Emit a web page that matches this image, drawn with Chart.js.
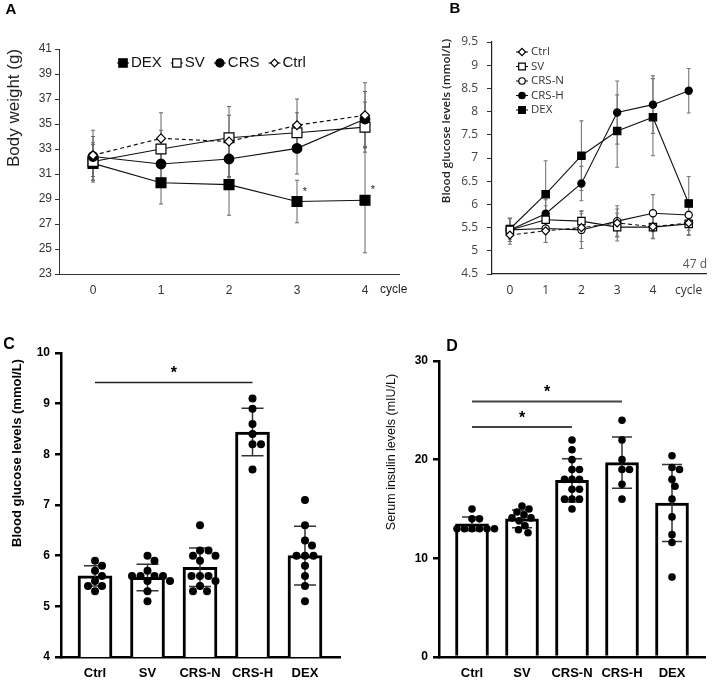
<!DOCTYPE html>
<html>
<head>
<meta charset="utf-8">
<script src="https://cdn.jsdelivr.net/npm/chart.js@4.4.1/dist/chart.umd.min.js"></script>
<style>
  html, body { margin: 0; padding: 0; background: #fff; }
  #wrap { position: relative; width: 713px; height: 681px; overflow: hidden; }
  canvas { position: absolute; }
</style>
</head>
<body>
<div id="wrap">
  <canvas id="chartA" width="420" height="310" style="left:0;top:0"></canvas>
  <canvas id="chartB" width="353" height="310" style="left:360px;top:0"></canvas>
  <canvas id="chartC" width="360" height="371" style="left:0;top:310px"></canvas>
  <canvas id="chartD" width="353" height="371" style="left:360px;top:310px"></canvas>
</div>
<script>
// ---- Panel A: body weight per cycle ----
const cyclesA = ['0', '1', '2', '3', '4'];
const weightDex = [31.85, 30.3, 30.15, 28.8, 28.9];
const weightDexSd = [1.5, 1.7, 2.45, 1.7, 4.2];
const weightSv = [32.0, 33.0, 33.9, 34.3, 34.75];
const weightSvSd = [1.5, 1.5, 1.8, 1.6, 2.0];
const weightCrs = [32.4, 31.8, 32.2, 33.05, 35.4];
const weightCrsSd = [1.6, 1.2, 1.5, 2.05, 2.2];
const weightCtrl = [32.5, 33.85, 33.6, 34.9, 35.7];
const weightCtrlSd = [2.0, 2.05, 2.8, 2.1, 2.6];
const dexStarCycles = [3, 4];

// ---- Panel B: blood glucose per cycle ----
const cyclesB = ['0', '1', '2', '3', '4', 'cycle'];
const glucCtrl = [5.34, 5.43, 5.5, 5.6, 5.52, 5.6];
const glucCtrlSd = [0.2, 0.25, 0.3, 0.3, 0.25, 0.25];
const glucSv = [5.45, 5.67, 5.64, 5.51, 5.51, 5.58];
const glucSvSd = [0.25, 0.3, 0.22, 0.3, 0.25, 0.25];
const glucCrsN = [5.45, 5.48, 5.45, 5.64, 5.81, 5.77];
const glucCrsNSd = [0.25, 0.3, 0.4, 0.33, 0.4, 0.2];
const glucCrsH = [5.45, 5.8, 6.45, 7.98, 8.15, 8.45];
const glucCrsHSd = [0.25, 0.3, 0.37, 0.68, 0.62, 0.48];
const glucDex = [5.47, 6.22, 7.05, 7.58, 7.88, 6.02];
const glucDexSd = [0.22, 0.72, 0.75, 0.78, 0.83, 0.58];

// ---- Panels C and D: groups ----
const groups = ['Ctrl', 'SV', 'CRS-N', 'CRS-H', 'DEX'];

const glucoseMean = [5.6, 5.57, 5.77, 8.44, 6.0];
const glucoseSd = [0.2, 0.26, 0.38, 0.47, 0.58];
const glucoseCtrl = [5.9, 5.8, 5.7, 5.6, 5.5, 5.4, 5.4, 5.3];
const glucoseSv = [6.0, 5.9, 5.7, 5.6, 5.6, 5.6, 5.6, 5.5, 5.5, 5.3, 5.1];
const glucoseCrsN = [6.6, 6.1, 6.1, 6.0, 6.0, 5.9, 5.6, 5.6, 5.6, 5.5, 5.4, 5.3, 5.3];
const glucoseCrsH = [9.1, 8.9, 8.6, 8.4, 8.2, 8.2, 7.7];
const glucoseDex = [7.1, 6.6, 6.3, 6.2, 6.0, 6.0, 6.0, 5.8, 5.6, 5.4, 5.1];
const sigC = [{ from: 0, to: 3, level: 9.42 }];

const insulinMean = [13.5, 14.0, 17.9, 19.7, 15.6];
const insulinSd = [0.7, 0.9, 2.2, 2.6, 3.9];
const insulinCtrl = [15, 14, 14, 13, 13, 13, 13, 13, 13];
const insulinSv = [15.3, 15.0, 14.7, 14.4, 14.1, 14.1, 13.8, 13.3, 12.9, 12.6];
const insulinCrsN = [22, 21, 20, 19, 19, 18, 18, 18, 17, 17, 16, 16, 16, 15];
const insulinCrsH = [24, 22, 20, 19, 19, 17.5, 16];
const insulinDex = [20.4, 19.2, 19.0, 18.0, 17.3, 16.0, 14.2, 12.4, 11.6, 8.1];
const sigD = [{ from: 0, to: 3, level: 25.9 }, { from: 0, to: 2, level: 23.3 }];

// ---------- helpers ----------
function drawMarker(ctx, style, r, x, y) {
    ctx.beginPath();
    if (style === 'circle') {
        ctx.arc(x, y, r, 0, Math.PI * 2);
    } else if (style === 'rect') {
        const s = r * Math.SQRT1_2;
        ctx.rect(x - s, y - s, 2 * s, 2 * s);
    } else {
        ctx.moveTo(x - r, y); ctx.lineTo(x, y - r); ctx.lineTo(x + r, y); ctx.lineTo(x, y + r); ctx.closePath();
    }
    ctx.fill();
    ctx.stroke();
}

function drawErrorBars(chart, meta, style) {
    const ds = chart.data.datasets[meta.index];
    if (!ds.sd) return;
    const ctx = chart.ctx;
    const yScale = chart.scales.y;
    ctx.save();
    ctx.strokeStyle = style.color;
    ctx.lineWidth = style.width;
    meta.data.forEach((el, i) => {
        const raw = ds.data[i];
        const mean = typeof raw === 'object' ? raw.y : raw;
        const top = yScale.getPixelForValue(mean + ds.sd[i]);
        const bottom = yScale.getPixelForValue(mean - ds.sd[i]);
        ctx.beginPath();
        ctx.moveTo(el.x, top); ctx.lineTo(el.x, bottom);
        ctx.moveTo(el.x - style.cap, top); ctx.lineTo(el.x + style.cap, top);
        ctx.moveTo(el.x - style.cap, bottom); ctx.lineTo(el.x + style.cap, bottom);
        ctx.stroke();
    });
    ctx.restore();
}

const errorBarPlugin = (style) => ({
    id: 'errorBars',
    beforeDatasetsDraw(chart) {
        if (style.under) chart.getSortedVisibleDatasetMetas().forEach(m => drawErrorBars(chart, m, style));
    },
    afterDatasetDraw(chart, args) {
        if (!style.under) drawErrorBars(chart, args.meta, style);
    }
});

const freeTextPlugin = (items) => ({
    id: 'freeText',
    afterDraw(chart) {
        const ctx = chart.ctx;
        items.forEach(t => {
            ctx.save();
            ctx.font = t.font;
            ctx.fillStyle = t.color || '#000';
            ctx.textAlign = t.align || 'center';
            ctx.textBaseline = 'middle';
            ctx.translate(t.x, t.y);
            if (t.rotate) ctx.rotate(t.rotate * Math.PI / 180);
            ctx.fillText(t.text, 0, 0);
            ctx.restore();
        });
    }
});

// legend drawn with the dataset's own marker style
const markerLegendPlugin = (o) => ({
    id: 'markerLegend',
    afterDraw(chart) {
        const ctx = chart.ctx;
        ctx.save();
        ctx.font = o.font;
        ctx.textBaseline = 'middle';
        ctx.textAlign = 'left';
        let x = o.x, y = o.y;
        o.order.forEach(label => {
            const ds = chart.data.datasets.find(d => d.label === label);
            ctx.strokeStyle = '#000';
            ctx.lineWidth = 1;
            ctx.beginPath(); ctx.moveTo(x - o.stub, y); ctx.lineTo(x + o.stub, y); ctx.stroke();
            ctx.fillStyle = ds.pointBackgroundColor;
            ctx.lineWidth = 1.2;
            drawMarker(ctx, ds.pointStyle, ds.pointRadius * o.scale, x, y);
            ctx.fillStyle = o.color;
            ctx.fillText(label, x + o.textGap, y);
            if (o.horizontal) x += o.textGap + ctx.measureText(label).width + o.itemGap;
            else y += o.lineGap;
        });
        ctx.restore();
    }
});

const sigPlugin = (lines, style) => ({
    id: 'sigLines',
    afterDatasetsDraw(chart) {
        const ctx = chart.ctx, xs = chart.scales.x, ys = chart.scales.y;
        ctx.save();
        lines.forEach(l => {
            const y = ys.getPixelForValue(l.level);
            const x1 = xs.getPixelForValue(l.from), x2 = xs.getPixelForValue(l.to);
            ctx.strokeStyle = style.color;
            ctx.lineWidth = style.width;
            ctx.beginPath(); ctx.moveTo(x1, y); ctx.lineTo(x2, y); ctx.stroke();
            ctx.fillStyle = '#000';
            ctx.font = style.font;
            ctx.textAlign = 'center';
            ctx.textBaseline = 'middle';
            ctx.fillText('*', (x1 + x2) / 2, y - style.lift);
        });
        ctx.restore();
    }
});

// spread dots sideways so they do not overlap (pixel scale given per panel)
function swarm(values, center, pxX, pxY, dia) {
    const placed = [];
    return values.slice().sort((a, b) => b - a).map(v => {
        const py = v * pxY;
        let off = 0;
        for (let k = 0; k < 400; k++) {
            const cand = (k % 2 ? 1 : -1) * Math.ceil(k / 2) * 0.5;
            if (placed.every(p => Math.hypot(p.x - cand, p.y - py) >= dia)) { off = cand; break; }
        }
        placed.push({ x: off, y: py });
        return { x: center + off / pxX, y: v };
    });
}

const lineSet = (label, data, sd, style, radius, fill, dash, width) => ({
    label, data, sd,
    borderColor: '#111', borderWidth: width, borderDash: dash || [],
    pointStyle: style, pointRadius: radius, pointHoverRadius: radius,
    pointBackgroundColor: fill, pointBorderColor: '#000', pointBorderWidth: 1.2,
    tension: 0, fill: false
});

// ---------- Chart A ----------
const dexStarPlugin = {
    id: 'dexStars',
    afterDatasetsDraw(chart) {
        const meta = chart.getDatasetMeta(chart.data.datasets.findIndex(d => d.label === 'DEX'));
        const ctx = chart.ctx;
        ctx.save();
        ctx.font = '11px Arial';
        ctx.fillStyle = '#222';
        ctx.textAlign = 'center';
        ctx.textBaseline = 'middle';
        dexStarCycles.forEach(i => ctx.fillText('*', meta.data[i].x + 8, meta.data[i].y - 10));
        ctx.restore();
    }
};

new Chart(document.getElementById('chartA'), {
    type: 'line',
    data: {
        labels: cyclesA,
        datasets: [
            lineSet('Ctrl', weightCtrl, weightCtrlSd, 'rectRot', 4.5, '#fff', [4, 3], 1.2),
            lineSet('CRS', weightCrs, weightCrsSd, 'circle', 4.8, '#000', null, 1.2),
            lineSet('SV', weightSv, weightSvSd, 'rect', 7, '#fff', null, 1.2),
            lineSet('DEX', weightDex, weightDexSd, 'rect', 7, '#000', null, 1.2)
        ]
    },
    options: {
        responsive: false,
        animation: false,
        layout: { padding: { top: 49, right: 21, left: 0, bottom: 0 } },
        plugins: { legend: { display: false }, tooltip: { enabled: false } },
        scales: {
            x: {
                offset: true,
                grid: { display: false, drawTicks: false },
                border: { color: '#333', width: 1 },
                ticks: { font: { family: 'Arial', size: 12 }, color: '#333', padding: 9 },
                afterFit: s => { s.height = 36; }
            },
            y: {
                min: 23, max: 41,
                ticks: { stepSize: 2, font: { family: 'Arial', size: 12 }, color: '#333', padding: 3 },
                grid: { drawOnChartArea: false, tickLength: 4, color: '#333' },
                border: { color: '#333', width: 1 },
                afterFit: s => { s.width = 59; }
            }
        }
    },
    plugins: [
        errorBarPlugin({ under: true, color: '#666', width: 1, cap: 2 }),
        dexStarPlugin,
        markerLegendPlugin({ order: ['DEX', 'SV', 'CRS', 'Ctrl'], horizontal: true, x: 123, y: 63, stub: 6, scale: 0.85,
            textGap: 8, itemGap: 15, font: '15px Arial', color: '#111' }),
        freeTextPlugin([
            { text: 'A', x: 11, y: 10, font: 'bold 15px Arial' },
            { text: 'Body weight (g)', x: 14, y: 108, rotate: -90, font: '17px Arial', color: '#222' },
            { text: 'cycle', x: 380, y: 290, align: 'left', font: '12px Arial', color: '#222' }
        ])
    ]
});

// ---------- Chart B ----------
new Chart(document.getElementById('chartB'), {
    type: 'line',
    data: {
        labels: cyclesB,
        datasets: [
            lineSet('Ctrl', glucCtrl, glucCtrlSd, 'rectRot', 4, '#fff', [4, 3], 1.1),
            lineSet('SV', glucSv, glucSvSd, 'rect', 5.2, '#fff', null, 1.1),
            lineSet('CRS-N', glucCrsN, glucCrsNSd, 'circle', 3.6, '#fff', null, 1.1),
            lineSet('CRS-H', glucCrsH, glucCrsHSd, 'circle', 3.6, '#000', null, 1.1),
            lineSet('DEX', glucDex, glucDexSd, 'rect', 5.2, '#000', null, 1.1)
        ]
    },
    options: {
        responsive: false,
        animation: false,
        layout: { padding: { top: 42, right: 0, left: 0, bottom: 0 } },
        plugins: { legend: { display: false }, tooltip: { enabled: false } },
        scales: {
            x: {
                offset: true,
                grid: { display: false, drawTicks: false },
                border: { color: '#222', width: 1.2 },
                ticks: { font: { family: 'Open Sans', size: 12 }, color: '#333', padding: 9 },
                afterFit: s => { s.height = 36; }
            },
            y: {
                min: 4.5, max: 9.5,
                ticks: { stepSize: 0.5, font: { family: 'Open Sans', size: 12 }, color: '#444', padding: 9, callback: v => String(v) },
                grid: { drawOnChartArea: false, tickLength: 5, color: '#333' },
                border: { color: '#222', width: 1.2 },
                afterFit: s => { s.width = 132; }
            }
        }
    },
    plugins: [
        errorBarPlugin({ under: true, color: '#777', width: 1.1, cap: 2 }),
        markerLegendPlugin({ order: ['Ctrl', 'SV', 'CRS-N', 'CRS-H', 'DEX'], horizontal: false, x: 162, y: 52, stub: 6, scale: 0.9,
            textGap: 9, lineGap: 14.5, font: '11.5px "Open Sans"', color: '#333' }),
        freeTextPlugin([
            { text: 'B', x: 95, y: 9, font: 'bold 15px Arial' },
            { text: 'Blood glucose levels (mmol/L)', x: 87, y: 121, rotate: -90, font: '600 11.5px "Open Sans"', color: '#222' },
            { text: '47 d', x: 347, y: 265, align: 'right', font: '12px "Open Sans"', color: '#555' }
        ])
    ]
});

// ---------- bar + dot panels ----------
function groupChart(id, cfg) {
    const dots = [];
    cfg.dots.forEach((vals, i) => swarm(vals, i, cfg.pxX, cfg.pxY, cfg.dia).forEach(p => dots.push(p)));
    return new Chart(document.getElementById(id), {
        type: 'bar',
        data: {
            datasets: [
                {
                    type: 'scatter', label: 'points', data: dots, order: 0,
                    pointRadius: cfg.dotRadius, pointHoverRadius: cfg.dotRadius,
                    backgroundColor: '#000', borderWidth: 0
                },
                {
                    type: 'bar', label: 'mean', order: 1,
                    data: cfg.mean.map((m, i) => ({ x: i, y: m })), sd: cfg.sd,
                    backgroundColor: '#fff', borderColor: '#000', borderWidth: 3,
                    borderSkipped: 'bottom', barThickness: cfg.barWidth
                }
            ]
        },
        options: {
            responsive: false,
            animation: false,
            layout: { padding: cfg.padding },
            plugins: { legend: { display: false }, tooltip: { enabled: false } },
            scales: {
                x: {
                    type: 'linear', min: cfg.xMin, max: cfg.xMax, offset: false,
                    grid: { display: false, drawTicks: false },
                    border: { color: '#000', width: 2.5 },
                    afterBuildTicks: s => { s.ticks = groups.map((g, i) => ({ value: i })); },
                    ticks: { callback: v => groups[v], autoSkip: false, maxRotation: 0,
                        font: { family: 'Arial', size: 13, weight: 'bold' }, color: '#000', padding: 9 },
                    afterFit: s => { s.height = cfg.xHeight; }
                },
                y: {
                    min: cfg.yMin, max: cfg.yMax,
                    ticks: { stepSize: cfg.yStep, font: { family: 'Arial', size: 12, weight: 'bold' }, color: '#000', padding: 5 },
                    grid: { drawOnChartArea: false, tickLength: 6, color: '#000', lineWidth: 2.5 },
                    border: { color: '#000', width: 2.5 },
                    afterFit: s => { s.width = cfg.yWidth; }
                }
            }
        },
        plugins: [
            errorBarPlugin({ under: false, color: '#333', width: 1.5, cap: cfg.cap }),
            sigPlugin(cfg.sig, cfg.sigStyle),
            freeTextPlugin(cfg.texts)
        ]
    });
}

groupChart('chartC', {
    mean: glucoseMean, sd: glucoseSd,
    dots: [glucoseCtrl, glucoseSv, glucoseCrsN, glucoseCrsH, glucoseDex],
    pxX: 52.5, pxY: 50.7, dia: 8.5, dotRadius: 4,
    barWidth: 34, cap: 11,
    xMin: -0.648, xMax: 4.667, yMin: 4, yMax: 10, yStep: 1,
    yWidth: 61, xHeight: 24,
    padding: { top: 43, right: 20, left: 0, bottom: 0 },
    sig: sigC, sigStyle: { color: '#222', width: 1.5, font: 'bold 16px Arial', lift: 9 },
    texts: [
        { text: 'C', x: 9, y: 35, font: 'bold 16px Arial' },
        { text: 'Blood glucose levels (mmol/L)', x: 17, y: 143, rotate: -90, font: 'bold 13px Arial' }
    ]
});

groupChart('chartD', {
    mean: insulinMean, sd: insulinSd,
    dots: [insulinCtrl, insulinSv, insulinCrsN, insulinCrsH, insulinDex],
    pxX: 50, pxY: 9.87, dia: 7.5, dotRadius: 3.8,
    barWidth: 33, cap: 10,
    xMin: -0.66, xMax: 4.66, yMin: 0, yMax: 30, yStep: 10,
    yWidth: 79, xHeight: 24,
    padding: { top: 51, right: 8, left: 0, bottom: 0 },
    sig: sigD, sigStyle: { color: '#444', width: 2, font: 'bold 16px Arial', lift: 9 },
    texts: [
        { text: 'D', x: 92, y: 37, font: 'bold 16px Arial' },
        { text: 'Serum insulin levels (mIU/L)', x: 32, y: 142, rotate: -90, font: '12.5px Arial', color: '#111' }
    ]
});
</script>
</body>
</html>
